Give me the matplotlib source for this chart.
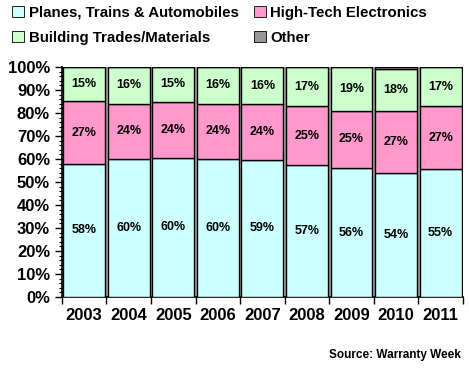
import numpy as np
import matplotlib.pyplot as plt
from matplotlib.patches import Patch
from matplotlib.ticker import MultipleLocator, FuncFormatter

years = ['2003', '2004', '2005', '2006', '2007', '2008', '2009', '2010', '2011']
planes = [58, 60, 60, 60, 59, 57, 56, 54, 55]
hitech = [27, 24, 24, 24, 24, 25, 25, 27, 27]
building = [15, 16, 15, 16, 16, 17, 19, 18, 17]
other = [0, 0, 0, 0, 0, 0, 0, 1, 0]

names = ['Planes, Trains & Automobiles', 'High-Tech Electronics',
         'Building Trades/Materials', 'Other']
colors = ['#CCFFFF', '#FF99CC', '#CCFFCC', '#969696']
series = [planes, hitech, building, other]

plt.rcParams['font.family'] = ['Liberation Sans', 'DejaVu Sans']
plt.rcParams['font.weight'] = 'bold'

fig = plt.figure(figsize=(4.69, 3.68), dpi=100)
ax = fig.add_axes([0.132, 0.193, 0.855, 0.625])

x = np.arange(len(years))
raw = np.array(series, dtype=float)
pct = raw / raw.sum(axis=0) * 100  # 100% stacked
bottom = np.zeros(len(years))
handles = []
for vals, v, c, name in zip(raw, pct, colors, names):
    ax.bar(x, v, width=0.94, bottom=bottom, color=c, edgecolor='black',
           linewidth=1.0, zorder=3)
    if name != 'Other':
        for xi, bi, vi, ri in zip(x, bottom, v, vals):
            ax.text(xi, bi + vi / 2, f'{int(ri)}%', ha='center', va='center',
                    fontsize=9, fontweight='bold', zorder=4)
    bottom += v
    handles.append(Patch(facecolor=c, edgecolor='black', linewidth=0.6, label=name))

# gray separators between columns
for b in np.arange(-0.5, len(years), 1.0):
    ax.axvline(b, color='#a0a0a0', linewidth=2.0, zorder=1)

ax.set_xlim(-0.5, len(years) - 0.5)
ax.set_ylim(0, 100)
ax.yaxis.set_major_locator(MultipleLocator(10))
ax.yaxis.set_minor_locator(MultipleLocator(2))
ax.yaxis.set_major_formatter(FuncFormatter(lambda v, p: f'{int(v)}%'))
ax.tick_params(axis='y', which='major', direction='out', length=5, width=1,
               labelsize=12)
ax.tick_params(axis='y', which='minor', direction='inout', length=5, width=0.8)
for lbl in ax.get_yticklabels():
    lbl.set_fontweight('bold')

ax.set_xticks(x)
ax.set_xticklabels(years, fontsize=12, fontweight='bold')
ax.tick_params(axis='x', which='major', length=0, pad=8)
ax.set_xticks(np.arange(-0.5, len(years), 1.0), minor=True)
ax.tick_params(axis='x', which='minor', direction='out', length=5, width=1)

for s in ['top', 'right']:
    ax.spines[s].set_visible(False)
ax.spines['left'].set_linewidth(1.2)
ax.spines['bottom'].set_linewidth(1.2)

order = [handles[0], handles[2], handles[1], handles[3]]
fig.legend(handles=order, loc='upper left', bbox_to_anchor=(0.01, 1.005), ncol=2,
           frameon=False, prop={'weight': 'bold', 'size': 10.8},
           handlelength=0.8, handleheight=0.8, handletextpad=0.3,
           columnspacing=1.0, labelspacing=0.75, borderaxespad=0.1)

fig.text(0.983, 0.02, 'Source: Warranty Week', ha='right', va='bottom',
         fontsize=8.5, fontweight='bold')

fig.savefig('out.png', dpi=100)
